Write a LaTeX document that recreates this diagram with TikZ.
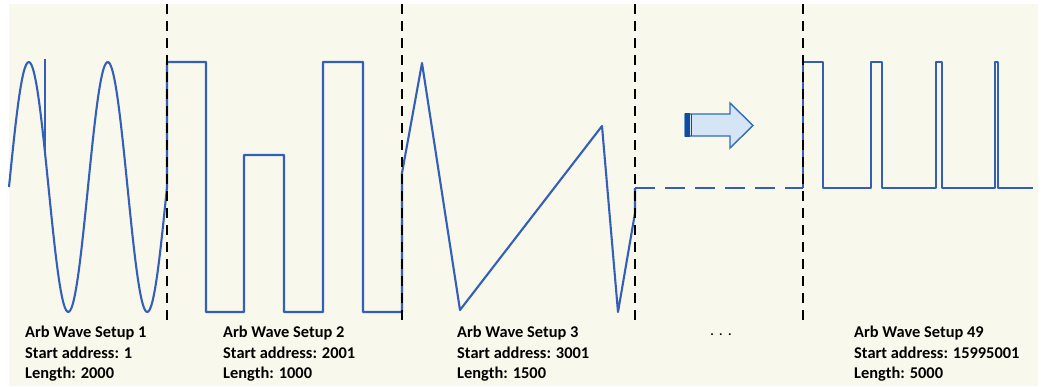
\documentclass[tikz,border=0pt]{standalone}
\usepackage{fontspec}
\setmainfont{Carlito}
\definecolor{waveblue}{RGB}{52,95,185}
\definecolor{cream}{RGB}{248,248,236}
\definecolor{arrowfill}{RGB}{214,229,246}
\definecolor{arrowline}{RGB}{46,110,185}
\definecolor{arrowdark}{RGB}{20,75,160}
\begin{document}
\begin{tikzpicture}[x=1pt,y=-1pt,
  wave/.style={draw=waveblue, line width=2.1pt, line join=round},
  sep/.style={draw=black, line width=2.9pt, dash pattern=on 10pt off 7pt},
  lbl/.style={anchor=north west, inner sep=0pt, align=left, font=\bfseries\fontsize{16.4}{20.5}\selectfont}]
\useasboundingbox (0,0) rectangle (1045,386);
\fill[white] (0,0) rectangle (1045,386);
\fill[cream] (9,4) rectangle (1038,386);
% sine
\draw[wave, smooth] plot[domain=9:167, samples=120] (\x,{187-125*sin(4.556962*(\x-9))});
\draw[wave] (45,59) -- (45,155);
% square + triangle
\draw[wave] (167,187) -- (167,62) -- (206,62) -- (206,312) -- (244,312) -- (244,155) -- (284,155) -- (284,312)
  -- (323,312) -- (323,62) -- (363,62) -- (363,312) -- (402,312) -- (402,173) -- (422,63) -- (460,310)
  -- (602,126) -- (618,312) -- (635,213) -- (635,188);
\draw[wave, dash pattern=on 20pt off 10pt] (635,188) -- (803,188);
\draw[wave] (803,188) -- (803,62) -- (823,62) -- (823,188) -- (871,188) -- (871,62) -- (882,62) -- (882,188)
  -- (936,188) -- (936,62) -- (942,62) -- (942,188) -- (995,188) -- (995,62) -- (998,62) -- (998,188) -- (1033,188);
% separators
\foreach \xx/\nm in {167/s1,402/s2,635/s3,803/s4}{
  \coordinate (\nm t) at (\xx,4);
  \coordinate (\nm b) at (\xx,325);
  \draw[sep] (\nm t) -- (\nm b);
}
% arrow
\draw[draw=arrowline, fill=arrowfill, line width=1.4pt, line join=miter]
  (685,114) -- (730,114) -- (730,103) -- (753,125.5) -- (730,148) -- (730,136) -- (685,136) -- cycle;
\fill[arrowdark] (685,113.3) rectangle (689.5,136.7);
\draw[arrowdark, line width=1pt] (691.5,114) -- (691.5,136);
% labels
\node[lbl] (l1) at (25,326) {Arb Wave Setup 1\\Start address: 1\\Length: 2000};
\node[lbl] (l2) at (223,326) {Arb Wave Setup 2\\Start address: 2001\\Length: 1000};
\node[lbl] (l3) at (457,326) {Arb Wave Setup 3\\Start address: 3001\\Length: 1500};
\node[lbl] (l4) at (854,326) {Arb Wave Setup 49\\Start address: 15995001\\Length: 5000};
\node[font=\fontsize{16}{20}\selectfont, inner sep=0pt] (dots) at (721,335) {. . .};
\end{tikzpicture}
\end{document}
